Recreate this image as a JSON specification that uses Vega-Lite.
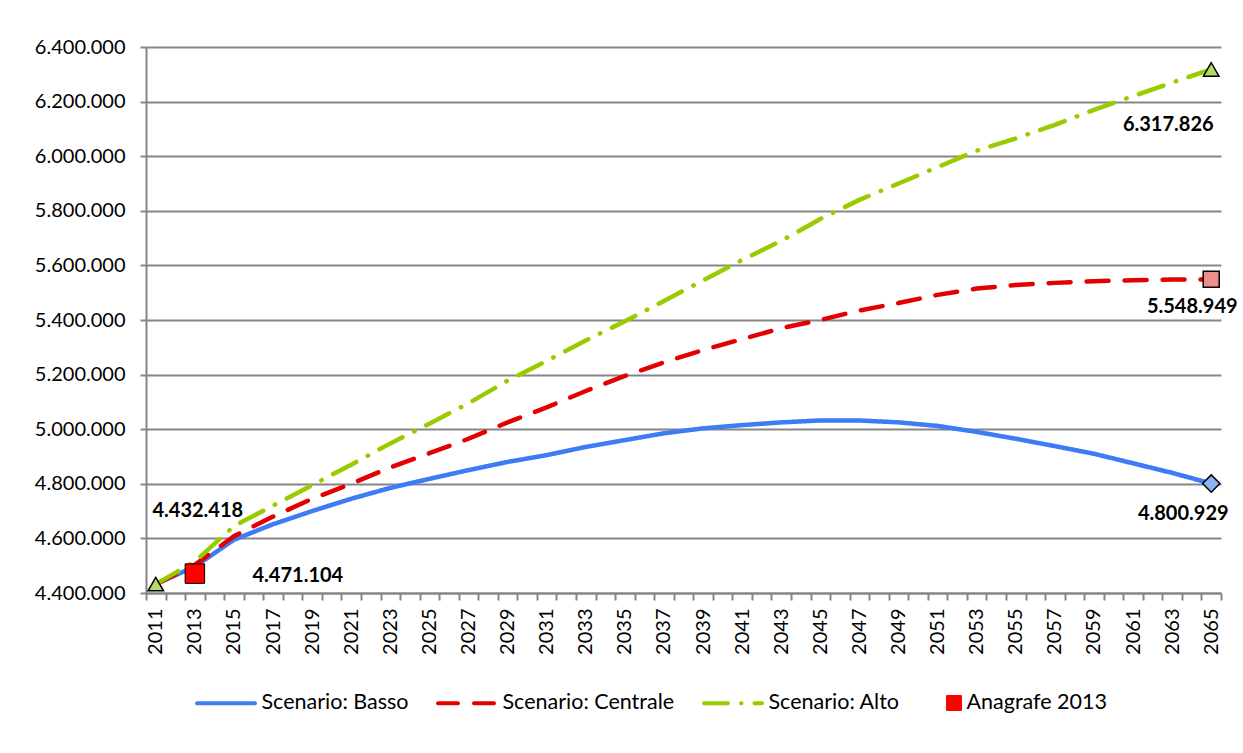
{
  "$schema": "https://vega.github.io/schema/vega-lite/v6.json",
  "width": 1075,
  "height": 546,
  "autosize": {"type": "none"},
  "padding": {"left": 146, "top": 47, "right": 22, "bottom": 160},
  "background": "white",
  "config": {
    "view": {"stroke": null},
    "font": "Lato"
  },
  "datasets": {
    "proj": [
      {"year": 2011, "series": "Scenario: Basso", "value": 4432418},
      {"year": 2013, "series": "Scenario: Basso", "value": 4497000},
      {"year": 2015, "series": "Scenario: Basso", "value": 4595000},
      {"year": 2017, "series": "Scenario: Basso", "value": 4652000},
      {"year": 2019, "series": "Scenario: Basso", "value": 4700000},
      {"year": 2021, "series": "Scenario: Basso", "value": 4745000},
      {"year": 2023, "series": "Scenario: Basso", "value": 4785000},
      {"year": 2025, "series": "Scenario: Basso", "value": 4818000},
      {"year": 2027, "series": "Scenario: Basso", "value": 4850000},
      {"year": 2029, "series": "Scenario: Basso", "value": 4880000},
      {"year": 2031, "series": "Scenario: Basso", "value": 4905000},
      {"year": 2033, "series": "Scenario: Basso", "value": 4935000},
      {"year": 2035, "series": "Scenario: Basso", "value": 4960000},
      {"year": 2037, "series": "Scenario: Basso", "value": 4985000},
      {"year": 2039, "series": "Scenario: Basso", "value": 5003000},
      {"year": 2041, "series": "Scenario: Basso", "value": 5015000},
      {"year": 2043, "series": "Scenario: Basso", "value": 5025000},
      {"year": 2045, "series": "Scenario: Basso", "value": 5032000},
      {"year": 2047, "series": "Scenario: Basso", "value": 5032000},
      {"year": 2049, "series": "Scenario: Basso", "value": 5025000},
      {"year": 2051, "series": "Scenario: Basso", "value": 5012000},
      {"year": 2053, "series": "Scenario: Basso", "value": 4990000},
      {"year": 2055, "series": "Scenario: Basso", "value": 4965000},
      {"year": 2057, "series": "Scenario: Basso", "value": 4938000},
      {"year": 2059, "series": "Scenario: Basso", "value": 4910000},
      {"year": 2061, "series": "Scenario: Basso", "value": 4875000},
      {"year": 2063, "series": "Scenario: Basso", "value": 4840000},
      {"year": 2065, "series": "Scenario: Basso", "value": 4800929},
      {"year": 2011, "series": "Scenario: Centrale", "value": 4432418},
      {"year": 2013, "series": "Scenario: Centrale", "value": 4503000},
      {"year": 2015, "series": "Scenario: Centrale", "value": 4608000},
      {"year": 2017, "series": "Scenario: Centrale", "value": 4680000},
      {"year": 2019, "series": "Scenario: Centrale", "value": 4745000},
      {"year": 2021, "series": "Scenario: Centrale", "value": 4800000},
      {"year": 2023, "series": "Scenario: Centrale", "value": 4860000},
      {"year": 2025, "series": "Scenario: Centrale", "value": 4912000},
      {"year": 2027, "series": "Scenario: Centrale", "value": 4965000},
      {"year": 2029, "series": "Scenario: Centrale", "value": 5025000},
      {"year": 2031, "series": "Scenario: Centrale", "value": 5080000},
      {"year": 2033, "series": "Scenario: Centrale", "value": 5140000},
      {"year": 2035, "series": "Scenario: Centrale", "value": 5195000},
      {"year": 2037, "series": "Scenario: Centrale", "value": 5245000},
      {"year": 2039, "series": "Scenario: Centrale", "value": 5290000},
      {"year": 2041, "series": "Scenario: Centrale", "value": 5330000},
      {"year": 2043, "series": "Scenario: Centrale", "value": 5370000},
      {"year": 2045, "series": "Scenario: Centrale", "value": 5400000},
      {"year": 2047, "series": "Scenario: Centrale", "value": 5435000},
      {"year": 2049, "series": "Scenario: Centrale", "value": 5462000},
      {"year": 2051, "series": "Scenario: Centrale", "value": 5492000},
      {"year": 2053, "series": "Scenario: Centrale", "value": 5515000},
      {"year": 2055, "series": "Scenario: Centrale", "value": 5528000},
      {"year": 2057, "series": "Scenario: Centrale", "value": 5536000},
      {"year": 2059, "series": "Scenario: Centrale", "value": 5542000},
      {"year": 2061, "series": "Scenario: Centrale", "value": 5546000},
      {"year": 2063, "series": "Scenario: Centrale", "value": 5548000},
      {"year": 2065, "series": "Scenario: Centrale", "value": 5548949},
      {"year": 2011, "series": "Scenario: Alto", "value": 4432418},
      {"year": 2013, "series": "Scenario: Alto", "value": 4515000},
      {"year": 2015, "series": "Scenario: Alto", "value": 4645000},
      {"year": 2017, "series": "Scenario: Alto", "value": 4720000},
      {"year": 2019, "series": "Scenario: Alto", "value": 4795000},
      {"year": 2021, "series": "Scenario: Alto", "value": 4870000},
      {"year": 2023, "series": "Scenario: Alto", "value": 4948000},
      {"year": 2025, "series": "Scenario: Alto", "value": 5020000},
      {"year": 2027, "series": "Scenario: Alto", "value": 5095000},
      {"year": 2029, "series": "Scenario: Alto", "value": 5178000},
      {"year": 2031, "series": "Scenario: Alto", "value": 5250000},
      {"year": 2033, "series": "Scenario: Alto", "value": 5325000},
      {"year": 2035, "series": "Scenario: Alto", "value": 5395000},
      {"year": 2037, "series": "Scenario: Alto", "value": 5470000},
      {"year": 2039, "series": "Scenario: Alto", "value": 5545000},
      {"year": 2041, "series": "Scenario: Alto", "value": 5620000},
      {"year": 2043, "series": "Scenario: Alto", "value": 5690000},
      {"year": 2045, "series": "Scenario: Alto", "value": 5770000},
      {"year": 2047, "series": "Scenario: Alto", "value": 5840000},
      {"year": 2049, "series": "Scenario: Alto", "value": 5900000},
      {"year": 2051, "series": "Scenario: Alto", "value": 5960000},
      {"year": 2053, "series": "Scenario: Alto", "value": 6020000},
      {"year": 2055, "series": "Scenario: Alto", "value": 6065000},
      {"year": 2057, "series": "Scenario: Alto", "value": 6115000},
      {"year": 2059, "series": "Scenario: Alto", "value": 6170000},
      {"year": 2061, "series": "Scenario: Alto", "value": 6220000},
      {"year": 2063, "series": "Scenario: Alto", "value": 6270000},
      {"year": 2065, "series": "Scenario: Alto", "value": 6317826}
    ],
    "anagrafe": [
      {"year": 2013, "series": "Anagrafe 2013", "value": 4471104}
    ],
    "labels": [
      {"year": 2011, "value": 4432418, "label": "4.432.418", "key": "start"},
      {"year": 2013, "value": 4471104, "label": "4.471.104", "key": "anagrafe"},
      {"year": 2065, "value": 6317826, "label": "6.317.826", "key": "alto"},
      {"year": 2065, "value": 5548949, "label": "5.548.949", "key": "centrale"},
      {"year": 2065, "value": 4800929, "label": "4.800.929", "key": "basso"}
    ]
  },
  "encoding": {
    "x": {
      "field": "year",
      "type": "ordinal",
      "bandPosition": 0.5,
      "scale": {
        "type": "band",
        "paddingInner": 0,
        "paddingOuter": 0,
        "domain": [2011,2012,2013,2014,2015,2016,2017,2018,2019,2020,2021,2022,2023,2024,2025,2026,2027,2028,2029,2030,2031,2032,2033,2034,2035,2036,2037,2038,2039,2040,2041,2042,2043,2044,2045,2046,2047,2048,2049,2050,2051,2052,2053,2054,2055,2056,2057,2058,2059,2060,2061,2062,2063,2064,2065]
      },
      "axis": {
        "title": null,
        "labelAngle": -90,
        "labelExpr": "datum.value % 2 === 1 ? datum.label : ''",
        "labelOverlap": false,
        "tickBand": "extent",
        "grid": false,
        "domainColor": "#868686",
        "domainWidth": 2,
        "tickColor": "#868686",
        "tickWidth": 2,
        "tickSize": 7,
        "labelPadding": 8,
        "labelFont": "Lato",
        "labelFontSize": 20,
        "labelColor": "#000000"
      }
    },
    "y": {
      "field": "value",
      "type": "quantitative",
      "scale": {"domain": [4400000, 6400000], "nice": false, "zero": false},
      "axis": {
        "title": null,
        "values": [4400000,4600000,4800000,5000000,5200000,5400000,5600000,5800000,6000000,6200000,6400000],
        "labelExpr": "replace(replace(format(datum.value, ','), ',', '.'), ',', '.')",
        "grid": true,
        "gridColor": "#868686",
        "gridWidth": 2,
        "domainColor": "#868686",
        "domainWidth": 2,
        "tickColor": "#868686",
        "tickWidth": 2,
        "tickSize": 6,
        "labelPadding": 15,
        "labelFont": "Lato",
        "labelFontSize": 20,
        "labelColor": "#000000"
      }
    }
  },
  "layer": [
    {
      "data": {"name": "proj"},
      "mark": {"type": "line", "strokeWidth": 4.5, "strokeCap": "round"},
      "encoding": {
        "color": {
          "field": "series",
          "type": "nominal",
          "scale": {
            "domain": ["Scenario: Basso", "Scenario: Centrale", "Scenario: Alto", "Anagrafe 2013"],
            "range": ["#3d7cf4", "#e30000", "#99cc00", "#ff0000"]
          },
          "legend": {
            "title": null,
            "orient": "none",
            "legendX": 70,
            "legendY": 645,
            "direction": "horizontal",
            "symbolType": "stroke",
            "symbolSize": 3364,
            "symbolStrokeWidth": 4,
            "labelFont": "Lato",
            "labelFontSize": 21.5,
            "labelColor": "#000000",
            "labelLimit": 400,
            "labelOffset": 24,
            "columnPadding": 21,
            "encode": {
              "symbols": {
                "update": {
                  "shape": {"signal": "datum.value === 'Anagrafe 2013' ? 'square' : 'stroke'"},
                  "size": {"signal": "datum.value === 'Anagrafe 2013' ? 196 : 3364"},
                  "x": {"signal": "datum.value === 'Anagrafe 2013' ? 33 : 10"},
                  "fill": {"signal": "datum.value === 'Anagrafe 2013' ? '#ff0000' : 'transparent'"},
                  "stroke": {"signal": "datum.value === 'Anagrafe 2013' ? '#000000' : scale('color', datum.value)"},
                  "strokeWidth": {"signal": "datum.value === 'Anagrafe 2013' ? 2 : 4"},
                  "strokeDash": {"signal": "datum.value === 'Scenario: Centrale' ? [20,16] : datum.value === 'Scenario: Alto' ? [24,13,0.5,13] : [1,0]"},
                  "strokeCap": {"value": "round"},
                  "opacity": {"value": 1}
                }
              }
            }
          }
        },
        "strokeDash": {
          "field": "series",
          "type": "nominal",
          "scale": {
            "domain": ["Scenario: Basso", "Scenario: Centrale", "Scenario: Alto"],
            "range": [[1, 0], [22, 16], [26, 13, 0.5, 13]]
          },
          "legend": null
        }
      }
    },
    {
      "data": {"name": "anagrafe"},
      "mark": {"type": "point", "shape": "square", "filled": true, "size": 380, "stroke": "#000000", "strokeWidth": 1, "opacity": 1},
      "encoding": {
        "color": {"field": "series", "type": "nominal"}
      }
    },
    {
      "data": {"name": "proj"},
      "transform": [{"filter": "datum.series === 'Scenario: Alto' && (datum.year === 2011 || datum.year === 2065)"}],
      "mark": {"type": "point", "shape": "triangle-up", "filled": true, "size": 240, "fill": "#b5da6c", "stroke": "#000000", "strokeWidth": 1.5, "opacity": 1}
    },
    {
      "data": {"name": "proj"},
      "transform": [{"filter": "datum.series === 'Scenario: Centrale' && datum.year === 2065"}],
      "mark": {"type": "point", "shape": "square", "filled": true, "size": 256, "fill": "#f08c8c", "stroke": "#000000", "strokeWidth": 1.5, "opacity": 1}
    },
    {
      "data": {"name": "proj"},
      "transform": [{"filter": "datum.series === 'Scenario: Basso' && datum.year === 2065"}],
      "mark": {"type": "point", "shape": "diamond", "filled": true, "size": 300, "fill": "#8cb4f0", "stroke": "#000000", "strokeWidth": 1.5, "opacity": 1}
    },
    {
      "data": {"name": "labels"},
      "transform": [{"filter": "datum.key === 'start'"}],
      "mark": {"type": "text", "font": "Lato", "fontSize": 20, "fontWeight": "bold", "color": "#000000", "align": "center", "baseline": "middle", "dx": 42, "dy": -73},
      "encoding": {"text": {"field": "label"}}
    },
    {
      "data": {"name": "labels"},
      "transform": [{"filter": "datum.key === 'anagrafe'"}],
      "mark": {"type": "text", "font": "Lato", "fontSize": 20, "fontWeight": "bold", "color": "#000000", "align": "center", "baseline": "middle", "dx": 103, "dy": 2},
      "encoding": {"text": {"field": "label"}}
    },
    {
      "data": {"name": "labels"},
      "transform": [{"filter": "datum.key === 'alto'"}],
      "mark": {"type": "text", "font": "Lato", "fontSize": 20, "fontWeight": "bold", "color": "#000000", "align": "center", "baseline": "middle", "dx": -43, "dy": 56},
      "encoding": {"text": {"field": "label"}}
    },
    {
      "data": {"name": "labels"},
      "transform": [{"filter": "datum.key === 'centrale'"}],
      "mark": {"type": "text", "font": "Lato", "fontSize": 20, "fontWeight": "bold", "color": "#000000", "align": "center", "baseline": "middle", "dx": -19, "dy": 28},
      "encoding": {"text": {"field": "label"}}
    },
    {
      "data": {"name": "labels"},
      "transform": [{"filter": "datum.key === 'basso'"}],
      "mark": {"type": "text", "font": "Lato", "fontSize": 20, "fontWeight": "bold", "color": "#000000", "align": "center", "baseline": "middle", "dx": -28, "dy": 30},
      "encoding": {"text": {"field": "label"}}
    }
  ]
}
